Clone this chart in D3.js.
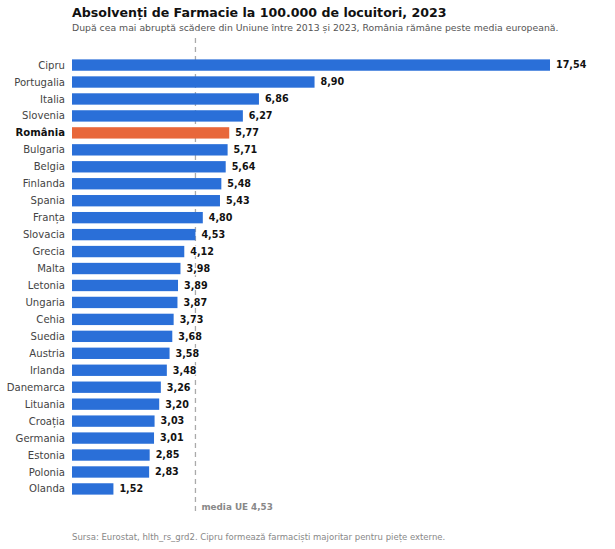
<!DOCTYPE html>
<html>
<head>
<meta charset="utf-8">
<script src="https://cdn.jsdelivr.net/npm/d3@7"></script>
<style>
  body { margin: 0; background: #fff; }
  svg { font-family: "DejaVu Sans", sans-serif; }
</style>
</head>
<body>
<svg id="chart" width="615" height="549"></svg>
<script>
// countries, top to bottom
const countries = ["Cipru", "Portugalia", "Italia", "Slovenia", "România", "Bulgaria",
  "Belgia", "Finlanda", "Spania", "Franța", "Slovacia", "Grecia", "Malta", "Letonia",
  "Ungaria", "Cehia", "Suedia", "Austria", "Irlanda", "Danemarca", "Lituania",
  "Croația", "Germania", "Estonia", "Polonia", "Olanda"];
const values = [17.54, 8.90, 6.86, 6.27, 5.77, 5.71, 5.64, 5.48, 5.43, 4.80, 4.53,
  4.12, 3.98, 3.89, 3.87, 3.73, 3.68, 3.58, 3.48, 3.26, 3.20, 3.03, 3.01, 2.85, 2.83, 1.52];
const highlight = "România";
const euMean = 4.53;

const rows = countries.map((c, i) => ({ name: c, value: values[i] }));
const fmt = v => d3.format(".2f")(v).replace(".", ",");

const svg = d3.select("#chart");
const left = 72;

const x = d3.scaleLinear().domain([0, 17.54]).range([left, 550]);
const y = d3.scaleBand().domain(countries).range([56.5, 497.5]).paddingInner(0.33).paddingOuter(0.17);

// title + subtitle
svg.append("text").attr("x", left).attr("y", 17)
  .attr("font-size", 12.6).attr("font-weight", "bold").attr("fill", "#111")
  .text("Absolvenți de Farmacie la 100.000 de locuitori, 2023");
svg.append("text").attr("x", left).attr("y", 31)
  .attr("font-size", 9.3).attr("fill", "#555")
  .text("După cea mai abruptă scădere din Uniune între 2013 și 2023, România rămâne peste media europeană.");

// EU mean line
svg.append("line")
  .attr("x1", x(euMean)).attr("x2", x(euMean))
  .attr("y1", 38).attr("y2", 515)
  .attr("stroke", "#aaa").attr("stroke-width", 1.3)
  .attr("stroke-dasharray", "5,4");

svg.append("text").attr("x", x(euMean) + 6).attr("y", 510)
  .attr("font-size", 8.8).attr("font-weight", "bold").attr("fill", "#888")
  .text("media UE " + fmt(euMean));

// bars
svg.append("g").selectAll("rect")
  .data(rows).join("rect")
  .attr("x", x(0))
  .attr("y", d => y(d.name))
  .attr("width", d => x(d.value) - x(0))
  .attr("height", y.bandwidth())
  .attr("fill", d => d.name === highlight ? "#e8673a" : "#2a6fd8");

// country labels
svg.append("g").selectAll("text")
  .data(rows).join("text")
  .attr("x", left - 7)
  .attr("y", d => y(d.name) + y.bandwidth() / 2)
  .attr("dy", "0.35em")
  .attr("text-anchor", "end")
  .attr("font-size", 10.1)
  .attr("font-weight", d => d.name === highlight ? "bold" : "normal")
  .attr("fill", d => d.name === highlight ? "#111" : "#444")
  .text(d => d.name);

// value labels
svg.append("g").selectAll("text")
  .data(rows).join("text")
  .attr("x", d => x(d.value) + 6)
  .attr("y", d => y(d.name) + y.bandwidth() / 2)
  .attr("dy", "0.35em")
  .attr("font-size", 9.6)
  .attr("font-weight", "bold")
  .attr("fill", "#111")
  .attr("stroke", "#fff").attr("stroke-width", 2.5).attr("paint-order", "stroke")
  .text(d => fmt(d.value));

// footer
svg.append("text").attr("x", left).attr("y", 540)
  .attr("font-size", 8.5).attr("fill", "#888")
  .text("Sursa: Eurostat, hlth_rs_grd2. Cipru formează farmaciști majoritar pentru piețe externe.");
</script>
</body>
</html>
